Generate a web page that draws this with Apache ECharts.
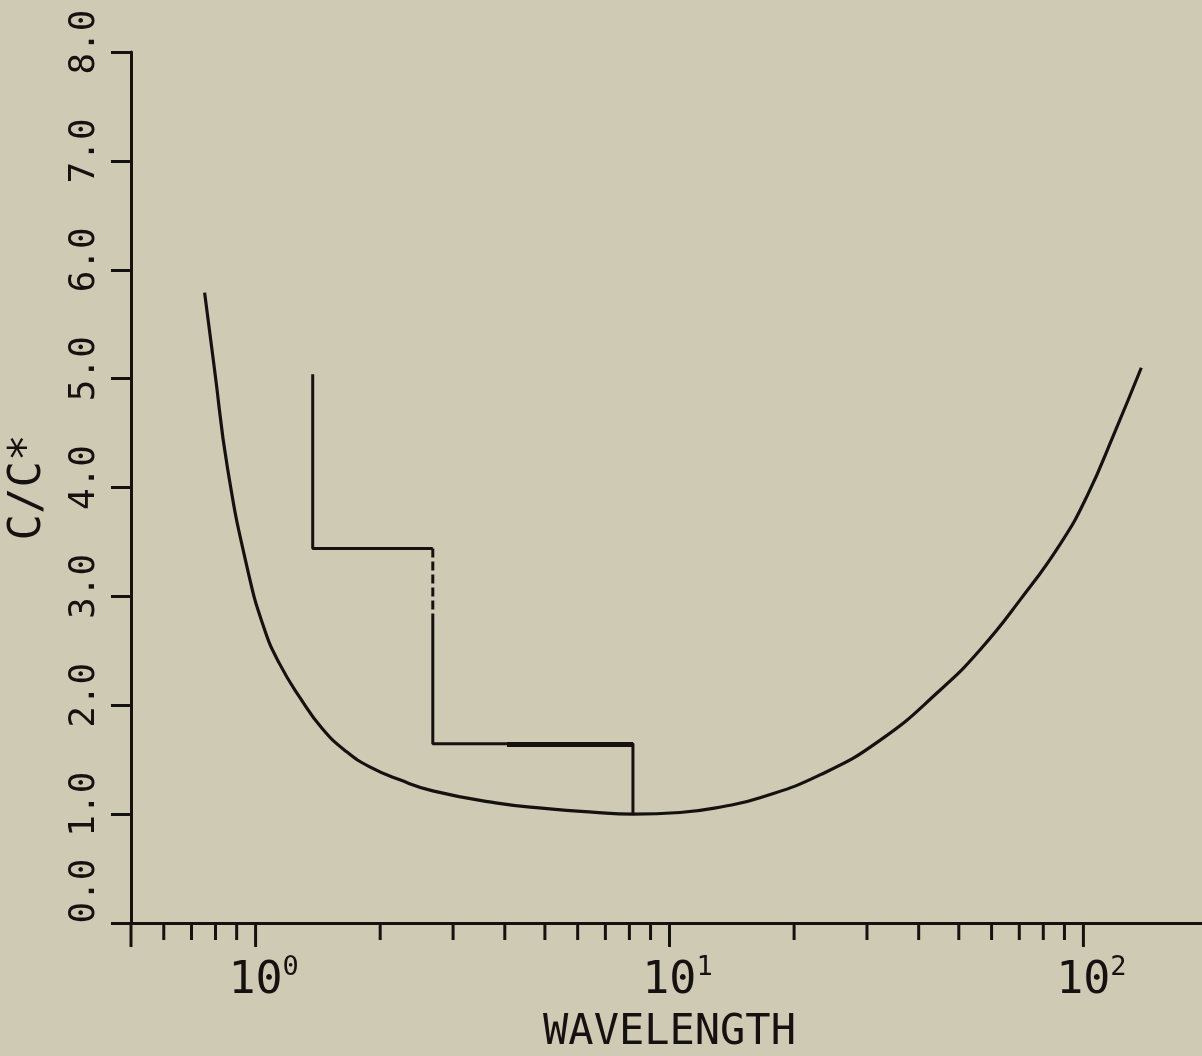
<!DOCTYPE html>
<html>
<head>
<meta charset="utf-8">
<title>C/C* vs wavelength</title>
<script src="https://cdn.jsdelivr.net/npm/echarts@6/dist/echarts.min.js"></script>
<style>
  html, body { margin: 0; padding: 0; background: #cfcab4; }
  #chart { width: 1202px; height: 1056px; }
</style>
</head>
<body>
<div id="chart"></div>
<script>
// Neutral-stability style curve: C/C* against wavelength (log axis)
const curvePoints = [
  [0.753, 5.79], [0.796, 5.08], [0.856, 4.17], [0.956, 3.25], [1.05, 2.70],
  [1.143, 2.38], [1.28, 2.07], [1.45, 1.784], [1.66, 1.572], [1.887, 1.434],
  [2.23, 1.315], [2.68, 1.214], [3.8, 1.103], [5.06, 1.050], [6.5, 1.018],
  [8.16, 1.00], [10.6, 1.015], [13.5, 1.07], [16.55, 1.15], [23.1, 1.36],
  [32.3, 1.68], [45.1, 2.14], [56.3, 2.51], [70.4, 2.97], [87.9, 3.48],
  [102.3, 3.93], [118.8, 4.50], [138, 5.10]
];

// Staircase approximation drawn over the curve
const stepUpper = [[1.374, 5.04], [1.374, 3.44], [2.68, 3.44]];
const stepBroken = [[2.68, 3.44], [2.68, 2.81]];
const stepLower = [[2.68, 2.81], [2.68, 1.646], [8.16, 1.646], [8.16, 1.0]];
const stepHeavy = [[4.05, 1.64], [8.16, 1.64]];

// Axis extents and tick values
const xRange = [0.5, 200];
const yRange = [0, 8];
const yTickStep = 1;
const xMajorTicks = [0.5, 1, 10, 100, 200];
const xMinorTicks = [0.6, 0.7, 0.8, 0.9, 2, 3, 4, 5, 6, 7, 8, 9, 20, 30, 40, 50, 60, 70, 80, 90];
const xDecadeLabels = { 1: '0', 10: '1', 100: '2' };

const ink = '#161111';
const mono = '"DejaVu Sans Mono", "Liberation Mono", monospace';

const chart = echarts.init(document.getElementById('chart'), null, { renderer: 'canvas' });

// Tick marks hanging below the wavelength axis, drawn at data positions
function tickSeries(values, len) {
  return {
    type: 'custom',
    clip: false,
    silent: true,
    data: values.map(function (v) { return [v, yRange[0]]; }),
    renderItem: function (params, api) {
      const p = api.coord([api.value(0), api.value(1)]);
      return {
        type: 'line',
        shape: { x1: p[0], y1: p[1], x2: p[0], y2: p[1] + len },
        style: { stroke: ink, lineWidth: 3 }
      };
    }
  };
}

chart.setOption({
  backgroundColor: '#cfcab4',
  animation: false,
  grid: { left: 131, right: -6, top: 52, bottom: 133, containLabel: false, outerBoundsMode: 'none' },
  xAxis: {
    type: 'log',
    logBase: 10,
    min: xRange[0],
    max: xRange[1],
    name: 'WAVELENGTH',
    nameLocation: 'middle',
    nameGap: 89,
    nameTextStyle: { fontFamily: mono, fontSize: 42, color: ink },
    axisLine: { show: true, onZero: false, lineStyle: { color: ink, width: 3 } },
    axisTick: { show: false },
    minorTick: { show: false },
    splitLine: { show: false },
    axisLabel: {
      show: true,
      margin: 31,
      showMinLabel: false,
      showMaxLabel: false,
      formatter: function (v) {
        const key = Math.round(v);
        if (Math.abs(v - key) < 1e-6 && xDecadeLabels[key] !== undefined) {
          return '{pad|}{b|10}{s|' + xDecadeLabels[key] + '}';
        }
        return '';
      },
      rich: {
        pad: { width: 16 },
        b: { fontFamily: mono, fontSize: 45, color: ink },
        s: { fontFamily: mono, fontSize: 27, color: ink, padding: [0, 0, 28, 0] }
      }
    }
  },
  yAxis: {
    type: 'value',
    min: yRange[0],
    max: yRange[1],
    interval: yTickStep,
    name: 'C/C*',
    nameLocation: 'middle',
    nameRotate: 90,
    nameGap: 80,
    nameTextStyle: { fontFamily: mono, fontSize: 44, color: ink },
    axisLine: { show: true, lineStyle: { color: ink, width: 3 } },
    axisTick: { show: true, inside: false, length: 20, lineStyle: { color: ink, width: 3 } },
    splitLine: { show: false },
    axisLabel: {
      rotate: 90,
      margin: 28,
      color: ink,
      formatter: function (v) {
        return (v === yRange[0] ? '{lo|' : '{n|') + v.toFixed(1) + '}';
      },
      rich: {
        n: { fontFamily: mono, fontSize: 36, color: ink, padding: [0, 0, 0, 20] },
        lo: { fontFamily: mono, fontSize: 36, color: ink, padding: [0, 0, 0, 64] }
      }
    }
  },
  series: [
    tickSeries(xMajorTicks, 24),
    tickSeries(xMinorTicks, 17),
    {
      name: 'curve',
      type: 'line',
      data: curvePoints,
      smooth: 0.5,
      showSymbol: false,
      lineStyle: { color: ink, width: 3.2 }
    },
    {
      name: 'steps upper',
      type: 'line',
      data: stepUpper,
      showSymbol: false,
      lineStyle: { color: ink, width: 3 }
    },
    {
      name: 'steps broken',
      type: 'line',
      data: stepBroken,
      showSymbol: false,
      lineStyle: { color: ink, width: 3, type: [9, 4] }
    },
    {
      name: 'steps lower',
      type: 'line',
      data: stepLower,
      showSymbol: false,
      lineStyle: { color: ink, width: 3 }
    },
    {
      name: 'steps heavy',
      type: 'line',
      data: stepHeavy,
      showSymbol: false,
      lineStyle: { color: ink, width: 5 }
    }
  ]
});
</script>
</body>
</html>
